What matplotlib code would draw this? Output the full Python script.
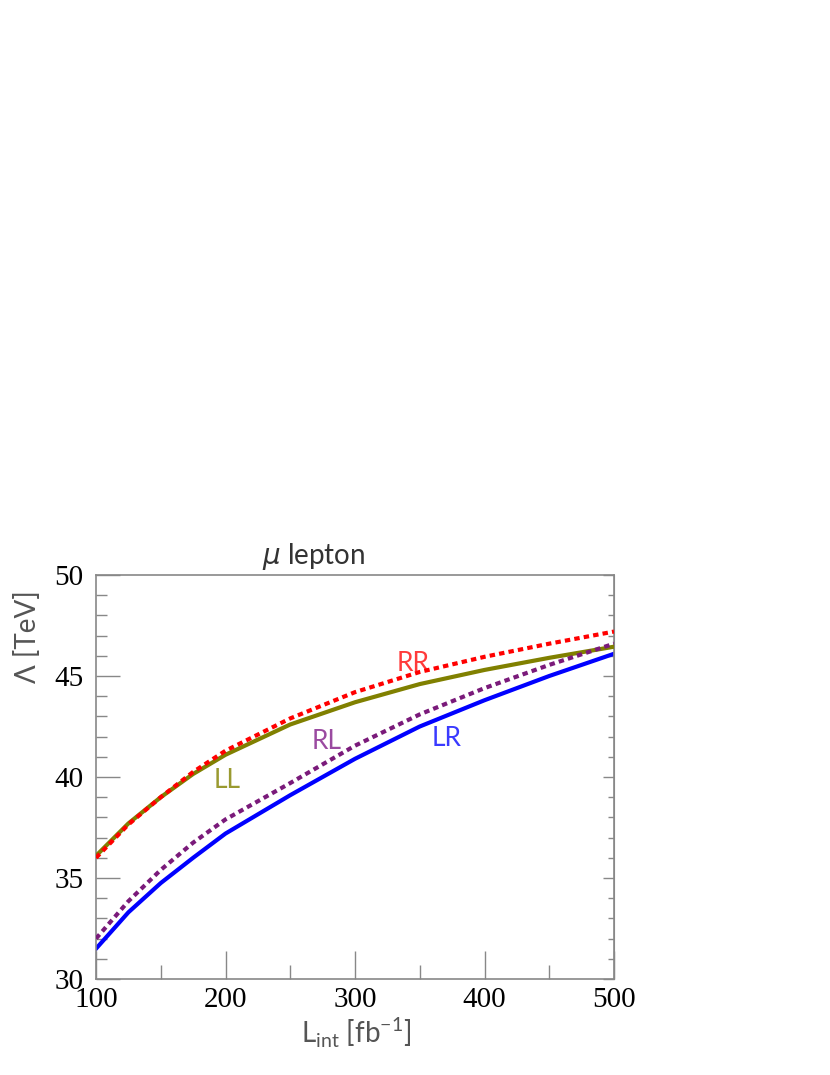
import numpy as np
import matplotlib
matplotlib.use('Agg')
from matplotlib import pyplot as plt
from matplotlib.ticker import MultipleLocator

# luminosity points [fb^-1]
lumi = [100, 125, 150, 175, 200, 250, 300, 350, 400, 450, 500]

# Lambda reach [TeV] per helicity combination
lam_LL = [36.1, 37.7, 39.0, 40.15, 41.1, 42.6, 43.7, 44.6, 45.3, 45.9, 46.45]
lam_RR = [36.0, 37.65, 39.0, 40.25, 41.3, 42.9, 44.2, 45.2, 45.95, 46.6, 47.2]
lam_RL = [32.0, 33.85, 35.4, 36.75, 37.9, 39.7, 41.55, 43.1, 44.4, 45.55, 46.6]
lam_LR = [31.5, 33.3, 34.75, 36.0, 37.2, 39.1, 40.9, 42.5, 43.8, 45.0, 46.1]

W, H = 830, 1075
sans = ['Lato', 'DejaVu Sans']
serif = ['Liberation Serif', 'DejaVu Serif']
grey = '#888888'

plt.rcParams['mathtext.fontset'] = 'custom'
plt.rcParams['mathtext.rm'] = 'Lato'
plt.rcParams['mathtext.it'] = 'DejaVu Sans:italic'

fig = plt.figure(figsize=(W / 100, H / 100), dpi=100)
ax = fig.add_axes([96 / W, 1 - 979 / H, (614 - 96) / W, (979 - 575) / H])

dot = (0, (1.3, 1.0))
ax.plot(lumi, lam_LR, color='#0000ff', lw=3.0, zorder=2)
ax.plot(lumi, lam_LL, color='#808000', lw=3.0, zorder=3)
ax.plot(lumi, lam_RL, color='#7a1a7a', lw=3.0, ls=dot, zorder=4)
ax.plot(lumi, lam_RR, color='#ff0000', lw=3.0, ls=dot, zorder=5)

# curve labels
ax.text(201, 39.85, 'LL', color='#9a9a30', fontsize=19, family=sans,
        ha='center', va='center')
ax.text(345, 45.64, 'RR', color='#ff3a3a', fontsize=19, family=sans,
        ha='center', va='center')
ax.text(278, 41.78, 'RL', color='#9a4aa0', fontsize=19, family=sans,
        ha='center', va='center')
ax.text(371, 41.93, 'LR', color='#3a3aff', fontsize=19, family=sans,
        ha='center', va='center')

ax.set_xlim(100, 500)
ax.set_ylim(30, 50)
ax.xaxis.set_major_locator(MultipleLocator(100))
ax.xaxis.set_minor_locator(MultipleLocator(50))
ax.yaxis.set_major_locator(MultipleLocator(5))
ax.yaxis.set_minor_locator(MultipleLocator(1))

for sp in ax.spines.values():
    sp.set_color(grey)
    sp.set_linewidth(1.2)

ax.tick_params(axis='y', which='major', direction='in', length=17, width=1,
               color=grey, left=True, right=False, labelsize=21, pad=9)
ax.tick_params(axis='y', which='minor', direction='in', length=8, width=1,
               color=grey, left=True, right=False)
ax.tick_params(axis='x', which='major', direction='in', length=20, width=1,
               color=grey, bottom=True, top=False, labelsize=21, pad=6)
ax.tick_params(axis='x', which='minor', direction='in', length=10, width=1,
               color=grey, bottom=True, top=False)
for lab in ax.get_xticklabels() + ax.get_yticklabels():
    lab.set_family(serif)
for t in ax.yaxis.get_major_ticks():
    t.label1.set_va('center_baseline')

# shorter ticks on the right side
sec = ax.secondary_yaxis('right')
sec.yaxis.set_major_locator(MultipleLocator(5))
sec.yaxis.set_minor_locator(MultipleLocator(1))
sec.tick_params(which='major', direction='in', length=8, width=1, color=grey,
                labelright=False)
sec.tick_params(which='minor', direction='in', length=4, width=1, color=grey,
                labelright=False)
sec.spines['right'].set_color(grey)

fig.text(314 / W, 1 - 556 / H, r'$\mu$ lepton', fontsize=20, family=sans,
         ha='center', va='center', color='#333333')
fig.text(27 / W, 1 - 637 / H, '\u039b [TeV]', fontsize=20, family=sans,
         ha='center', va='center', rotation=90, color='#555555')
fig.text(356 / W, 1 - 1033 / H, r'L$_{\mathrm{int}}$ [fb$^{-1}$]',
         fontsize=20, family=sans, ha='center', va='center',
         color='#555555')

plt.savefig('out.png', dpi=100)
